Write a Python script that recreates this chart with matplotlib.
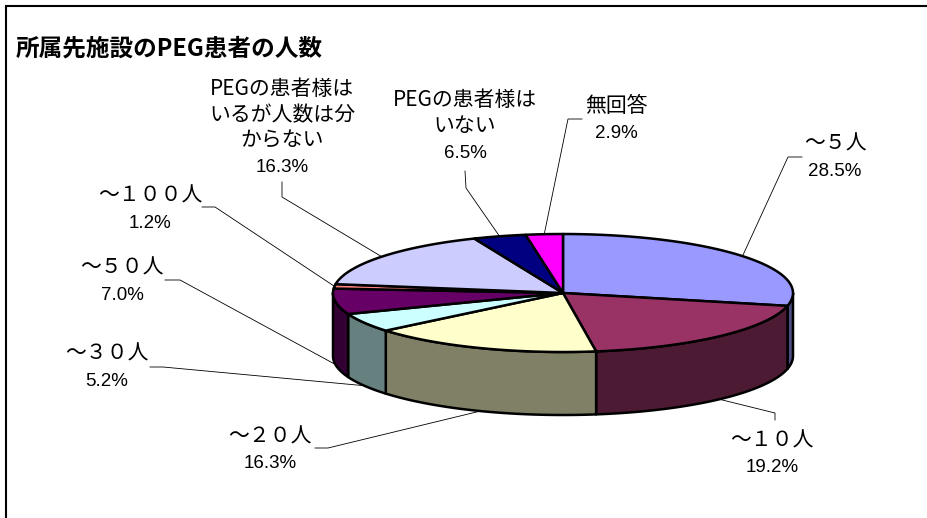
import numpy as np
import matplotlib
matplotlib.use('Agg')
import matplotlib.pyplot as plt
from matplotlib.patches import Polygon
from matplotlib.colors import to_rgb

# data (clockwise from 12 o'clock)
names = ['～５人', '～１０人', '～２０人', '～３０人', '～５０人', '～１００人',
         'PEGの患者様は\nいるが人数は分\nからない', 'PEGの患者様は\nいない', '無回答']
pct_labels = ['28.5%', '19.2%', '16.3%', '5.2%', '7.0%', '1.2%', '16.3%', '6.5%', '2.9%']
# slice sizes as they are drawn (the last two are drawn narrower than labelled)
shares = [28.5, 19.2, 16.3, 5.2, 7.0, 1.2, 16.3, 3.7, 2.6]
colors = ['#9999FF', '#993366', '#FFFFCC', '#CCFFFF', '#660066',
          '#FF8080', '#CCCCFF', '#000080', '#FF00FF']

# layout (pixels)
cx, cy, ra, rb, depth = 563, 293, 230, 59, 63
label_pos = [(835, 157), (772, 454), (270, 450), (107, 367), (122, 281),
             (150, 209), (282, 128), (465, 126), (616, 119)]
elbows = [((788, 157), (802, 157)), ((775, 413), (775, 420)), ((328, 448), (315, 448)),
          ((163, 367), (150, 367)), ((180, 280), (165, 280)), ((215, 207), (202, 207)),
          ((282, 197), (282, 182)), ((466, 188), (465, 171)), ((568, 119), (582, 119))]
line_step = 26

JP = ['Noto Sans CJK JP', 'DejaVu Sans']
PCT = ['Liberation Sans', 'DejaVu Sans']


def pt(t, dy=0):
    t = np.radians(t)
    return np.column_stack([cx + ra * np.sin(t), cy - rb * np.cos(t) + dy])


def darker(c, f=0.5):
    return tuple(v * f for v in to_rgb(c))


fig = plt.figure(figsize=(9.28, 5.18), dpi=100)
ax = fig.add_axes([0, 0, 1, 1])
ax.set_xlim(0, 928)
ax.set_ylim(518, 0)
ax.axis('off')

edges = np.concatenate([[0], np.cumsum(shares)]) / sum(shares) * 360

# side walls (only the front half shows)
for i in range(len(shares)):
    t1, t2 = max(edges[i], 90), min(edges[i + 1], 270)
    if t2 <= t1:
        continue
    ts = np.linspace(t1, t2, 80)
    poly = np.vstack([pt(ts), pt(ts[::-1], depth)])
    ax.add_patch(Polygon(poly, closed=True, fc=darker(colors[i]), ec='black',
                         lw=1.8, joinstyle='round'))

# top faces
for i in range(len(shares)):
    ts = np.linspace(edges[i], edges[i + 1], 120)
    poly = np.vstack([[cx, cy], pt(ts)])
    ax.add_patch(Polygon(poly, closed=True, fc=colors[i], ec='black',
                         lw=1.8, joinstyle='round'))

# labels and leader lines
for i in range(len(shares)):
    mid = (edges[i] + edges[i + 1]) / 2
    front = np.cos(np.radians(mid)) < 0
    anchor = pt([mid], depth if front else 0)[0]
    (ex, ey), (lx, ly) = elbows[i]
    ax.plot([anchor[0], ex, lx], [anchor[1], ey, ly], color='black', lw=0.6)

    x, y = label_pos[i]
    lines = names[i].split('\n')
    n = len(lines) + 1
    y0 = y - (n - 1) * line_step / 2
    for k, s in enumerate(lines):
        ax.text(x, y0 + k * line_step, s, ha='center', va='center',
                fontsize=15, family=JP)
    ax.text(x, y0 + (n - 1) * line_step + 1, pct_labels[i], ha='center', va='center',
            fontsize=13.5, family=PCT)

ax.text(16, 48, '所属先施設のPEG患者の人数', ha='left', va='center',
        fontsize=17, fontweight='bold', family=JP)

# chart frame (right and bottom sides fall outside the picture)
ax.plot([6, 6, 928], [518, 5.5, 5.5], color='black', lw=1.5, solid_joinstyle='miter')

fig.savefig('out.png', dpi=100)
